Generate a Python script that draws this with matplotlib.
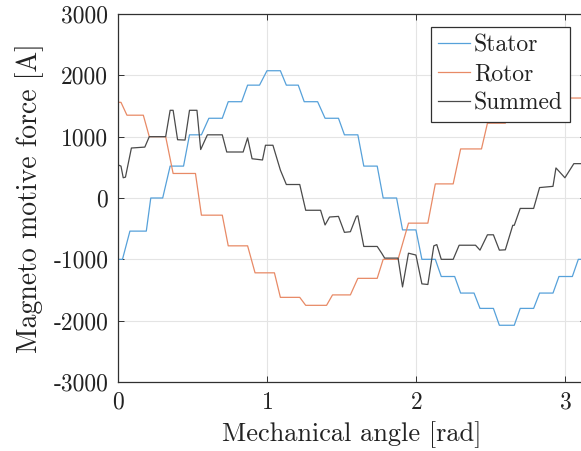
import numpy as np
import matplotlib
matplotlib.use("Agg")
import matplotlib.pyplot as plt

plt.rcParams["font.family"] = ["cmr10", "DejaVu Serif"]
plt.rcParams["axes.unicode_minus"] = False
plt.rcParams["axes.formatter.use_mathtext"] = True

# Stator MMF plateaus: start angle, end angle, level [A]
stator_start = [0.00, 0.08, 0.22, 0.35, 0.48, 0.61, 0.74, 0.87, 1.00, 1.13, 1.25, 1.39,
                1.52, 1.65, 1.78, 1.91, 2.04, 2.17, 2.30, 2.43, 2.56, 2.70, 2.83, 2.96, 3.09]
stator_end = [0.03, 0.19, 0.30, 0.44, 0.56, 0.70, 0.83, 0.95, 1.09, 1.21, 1.34, 1.48,
              1.61, 1.74, 1.87, 2.00, 2.13, 2.26, 2.39, 2.52, 2.66, 2.79, 2.92, 3.05, 3.1416]
stator_level = [-1000, -540, 0, 520, 1030, 1300, 1570, 1840, 2075, 1840, 1570, 1300,
                1030, 520, 0, -520, -1000, -1280, -1550, -1800, -2075, -1800, -1550, -1280, -1000]

# Rotor MMF plateaus
rotor_start = [0.00, 0.06, 0.21, 0.37, 0.56, 0.74, 0.92, 1.09, 1.26, 1.44, 1.61, 1.78,
               1.95, 2.13, 2.30, 2.48, 2.65]
rotor_end = [0.02, 0.17, 0.32, 0.52, 0.70, 0.87, 1.05, 1.22, 1.40, 1.56, 1.74, 1.88,
             2.08, 2.25, 2.44, 2.60, 3.1416]
rotor_level = [1560, 1350, 1000, 400, -280, -780, -1220, -1620, -1750, -1580, -1310, -1000,
               -410, 230, 800, 1220, 1630]

# Summed MMF trace
summed_x = [0.00, 0.02, 0.035, 0.05, 0.09, 0.18, 0.21, 0.32, 0.35, 0.37, 0.40, 0.45,
            0.48, 0.53, 0.555, 0.60, 0.70, 0.73, 0.84, 0.87, 0.90, 0.97, 0.99, 1.04,
            1.09, 1.13, 1.22, 1.26, 1.36, 1.39, 1.42, 1.48, 1.52, 1.56, 1.60, 1.61,
            1.65, 1.74, 1.77, 1.79, 1.88, 1.91, 1.95, 2.00, 2.04, 2.08, 2.12, 2.14,
            2.17, 2.25, 2.29, 2.40, 2.43, 2.48, 2.52, 2.56, 2.60, 2.65, 2.66, 2.70,
            2.79, 2.83, 2.92, 2.94, 3.00, 3.06, 3.1416]
summed_y = [540, 520, 330, 340, 815, 830, 1000, 1000, 1430, 1430, 950, 945,
            1430, 1430, 790, 1030, 1030, 750, 750, 980, 640, 620, 860, 860,
            455, 220, 220, -200, -200, -440, -310, -300, -560, -550, -300, -290,
            -790, -790, -900, -980, -980, -1450, -900, -930, -1400, -1410, -780, -760,
            -1000, -1000, -770, -770, -850, -600, -600, -850, -845, -445, -445, -170,
            -170, 170, 190, 490, 330, 560, 560]

x_ticks = [0, 1, 2, 3]
y_ticks = [-3000, -2000, -1000, 0, 1000, 2000, 3000]
y_tick_labels = ["-3000", "-2000", "-1000", "0", "1000", "2000", "3000"]


def plateau_path(starts, ends, levels):
    xs, ys = [], []
    for s, e, v in zip(starts, ends, levels):
        xs += [s, e]
        ys += [v, v]
    return np.array(xs), np.array(ys)


W, H = 581, 451
fig = plt.figure(figsize=(W / 100, H / 100), dpi=100)
left, right, top, bottom = 118, 586, 14, 382
ax = fig.add_axes([left / W, 1 - bottom / H, (right - left) / W, (bottom - top) / H])

sx, sy = plateau_path(stator_start, stator_end, stator_level)
rx, ry = plateau_path(rotor_start, rotor_end, rotor_level)

ax.plot(sx, sy, color="#56a1da", lw=0.9, label="Stator")
ax.plot(rx, ry, color="#e88a66", lw=0.9, label="Rotor")
ax.plot(summed_x, summed_y, color="#4a4a4a", lw=0.9, label="Summed")

ax.set_xlim(0, np.pi)
ax.set_ylim(-3000, 3000)
ax.set_xticks(x_ticks)
ax.set_yticks(y_ticks)
ax.set_yticklabels(y_tick_labels)
ax.grid(True, color="#e4e4e4", lw=0.8)
ax.set_axisbelow(True)
ax.tick_params(direction="in", top=True, right=True, length=4, width=0.7,
               color="#303030", labelsize=17, labelcolor="#222222", pad=7)
for sp in ax.spines.values():
    sp.set_color("#303030")
    sp.set_linewidth(0.9)

ax.set_xlabel("Mechanical angle [rad]", fontsize=19, color="#222222", labelpad=5)
ax.set_ylabel("Magneto motive force [A]", fontsize=20, color="#222222", labelpad=7)

leg = ax.legend(loc="upper right", bbox_to_anchor=(570 / W, 1 - 27 / H),
                bbox_transform=fig.transFigure, borderaxespad=0, fontsize=17,
                fancybox=False, framealpha=1, edgecolor="#303030",
                handlelength=1.35, handletextpad=0.15, labelspacing=0.3,
                borderpad=0.3)
leg.get_frame().set_linewidth(0.9)
for t in leg.get_texts():
    t.set_color("#222222")

fig.savefig("out.png", dpi=100)
